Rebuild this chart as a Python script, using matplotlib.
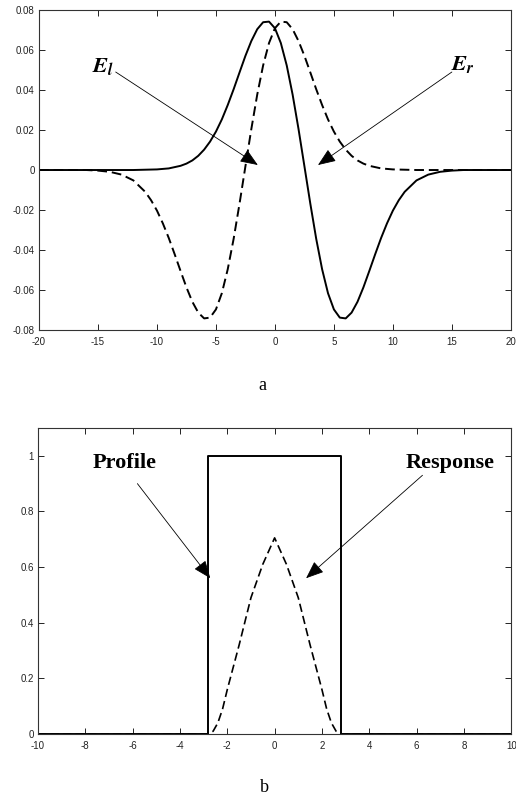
import matplotlib
matplotlib.use('Agg')
import matplotlib.pyplot as plt

# panel a: left and right fields
x_el = [-20, -12, -10, -9, -8, -7.5, -7, -6.5, -6, -5.5, -5, -4.5, -4, -3.5, -3,
        -2.5, -2, -1.5, -1, -0.5, 0, 0.5, 1, 1.5, 2, 2.5, 3, 3.5, 4, 4.5, 5,
        5.5, 6, 6.5, 7, 7.5, 8, 8.5, 9, 9.5, 10, 10.5, 11, 12, 13, 14, 15, 16, 20]
e_l = [0, 0, 0.0003, 0.0008, 0.0021, 0.0032, 0.0048, 0.0071, 0.0102, 0.0142,
       0.0192, 0.0253, 0.0325, 0.0404, 0.0488, 0.0571, 0.0645, 0.0704, 0.0739,
       0.0742, 0.0709, 0.0635, 0.0523, 0.0377, 0.0205, 0.0019, -0.0168, -0.0344,
       -0.0496, -0.0616, -0.0697, -0.0738, -0.0742, -0.0713, -0.0659, -0.0587,
       -0.0505, -0.0421, -0.0340, -0.0267, -0.0203, -0.0151, -0.0109, -0.0052,
       -0.0023, -0.0009, -0.0003, 0, 0]

x_er = [-20, -16, -15, -14, -13, -12, -11, -10.5, -10, -9.5, -9, -8.5, -8, -7.5,
        -7, -6.5, -6, -5.5, -5, -4.5, -4, -3.5, -3, -2.5, -2, -1.5, -1, -0.5, 0,
        0.5, 1, 1.5, 2, 2.5, 3, 3.5, 4, 4.5, 5, 5.5, 6, 6.5, 7, 7.5, 8, 9, 10, 12, 20]
e_r = [0, 0, -0.0003, -0.0009, -0.0023, -0.0052, -0.0109, -0.0151, -0.0203,
       -0.0267, -0.0340, -0.0421, -0.0505, -0.0587, -0.0659, -0.0713, -0.0742,
       -0.0738, -0.0697, -0.0616, -0.0496, -0.0344, -0.0168, 0.0019, 0.0205,
       0.0377, 0.0523, 0.0635, 0.0709, 0.0742, 0.0739, 0.0704, 0.0645, 0.0571,
       0.0488, 0.0404, 0.0325, 0.0253, 0.0192, 0.0142, 0.0102, 0.0071, 0.0048,
       0.0032, 0.0021, 0.0008, 0.0003, 0, 0]

# panel b: rectangular profile and its response
x_prof = [-10, -2.8, -2.8, 2.8, 2.8, 10]
y_prof = [0, 0, 1, 1, 0, 0]

x_resp = [-10, -2.8, -2.6, -2.4, -2.2, -2.0, -1.5, -1.0, -0.5, 0,
          0.5, 1.0, 1.5, 2.0, 2.2, 2.4, 2.6, 2.8, 10]
y_resp = [0, 0, 0.01, 0.04, 0.09, 0.16, 0.32, 0.49, 0.61, 0.705,
          0.61, 0.49, 0.32, 0.16, 0.09, 0.04, 0.01, 0, 0]

ticks_a_x = [-20, -15, -10, -5, 0, 5, 10, 15, 20]
ticks_a_y = [-0.08, -0.06, -0.04, -0.02, 0, 0.02, 0.04, 0.06, 0.08]
ticks_b_x = [-10, -8, -6, -4, -2, 0, 2, 4, 6, 8, 10]
ticks_b_y = [0, 0.2, 0.4, 0.6, 0.8, 1]


def style_axes(ax):
    ax.tick_params(direction='in', top=True, right=True, length=4, width=0.6,
                   labelsize=7, labelcolor='#222222')
    ax.tick_params(axis='x', pad=5)
    ax.tick_params(axis='y', pad=3)
    for s in ax.spines.values():
        s.set_linewidth(0.8)
        s.set_color('#333333')
    for lab in ax.get_xticklabels() + ax.get_yticklabels():
        lab.set_family('Liberation Sans')


def main():
    plt.rcParams['axes.unicode_minus'] = False
    plt.rcParams['mathtext.fontset'] = 'stix'

    fig = plt.figure(figsize=(5.16, 8.01), dpi=100)
    ax1 = fig.add_axes([0.0756, 0.5880, 0.9144, 0.3995])
    ax2 = fig.add_axes([0.0737, 0.0836, 0.9170, 0.3821])

    dash = (0, (5, 2.5))
    arrow = dict(arrowstyle='-|>,head_length=0.55,head_width=0.22',
                 mutation_scale=20, lw=0.6, color='k', shrinkA=0, shrinkB=0)

    # panel a
    ax1.plot(x_el, e_l, color='k', lw=1.4)
    ax1.plot(x_er, e_r, color='k', lw=1.4, ls=dash)
    ax1.set_xlim(-20, 20)
    ax1.set_ylim(-0.08, 0.08)
    ax1.set_xticks(ticks_a_x)
    ax1.set_yticks(ticks_a_y)
    ax1.set_xticklabels([str(t) for t in ticks_a_x])
    ax1.set_yticklabels(['-0.08', '-0.06', '-0.04', '-0.02', '0',
                         '0.02', '0.04', '0.06', '0.08'])
    style_axes(ax1)

    ax1.text(-14.6, 0.052, r'$\mathbfit{E}_{\mathbfit{l}}$', fontsize=16,
             ha='center', va='center')
    ax1.annotate('', xy=(-1.45, 0.0025), xytext=(-13.5, 0.049), arrowprops=arrow)
    ax1.text(15.9, 0.053, r'$\mathbfit{E}_{\mathbfit{r}}$', fontsize=16,
             ha='center', va='center')
    ax1.annotate('', xy=(3.65, 0.0025), xytext=(15.0, 0.049), arrowprops=arrow)

    # panel b
    ax2.plot(x_prof, y_prof, color='k', lw=1.4)
    ax2.plot(x_resp, y_resp, color='k', lw=1.2, ls=dash)
    ax2.set_xlim(-10, 10)
    ax2.set_ylim(0, 1.1)
    ax2.set_xticks(ticks_b_x)
    ax2.set_yticks(ticks_b_y)
    ax2.set_xticklabels([str(t) for t in ticks_b_x])
    ax2.set_yticklabels(['0', '0.2', '0.4', '0.6', '0.8', '1'])
    style_axes(ax2)

    ax2.text(-6.35, 0.975, 'Profile', fontsize=16, fontweight='bold',
             family='Liberation Serif', ha='center', va='center')
    ax2.annotate('', xy=(-2.72, 0.56), xytext=(-5.8, 0.90), arrowprops=arrow)
    ax2.text(7.4, 0.975, 'Response', fontsize=16, fontweight='bold',
             family='Liberation Serif', ha='center', va='center')
    ax2.annotate('', xy=(1.33, 0.56), xytext=(6.25, 0.93), arrowprops=arrow)

    # captions
    fig.text(262 / 516, 1 - 385 / 801, 'a', fontsize=13,
             family='Liberation Serif', ha='center', va='center')
    fig.text(264 / 516, 1 - 788 / 801, 'b', fontsize=13,
             family='Liberation Serif', ha='center', va='center')

    fig.savefig('out.png', dpi=100)


if __name__ == '__main__':
    main()
